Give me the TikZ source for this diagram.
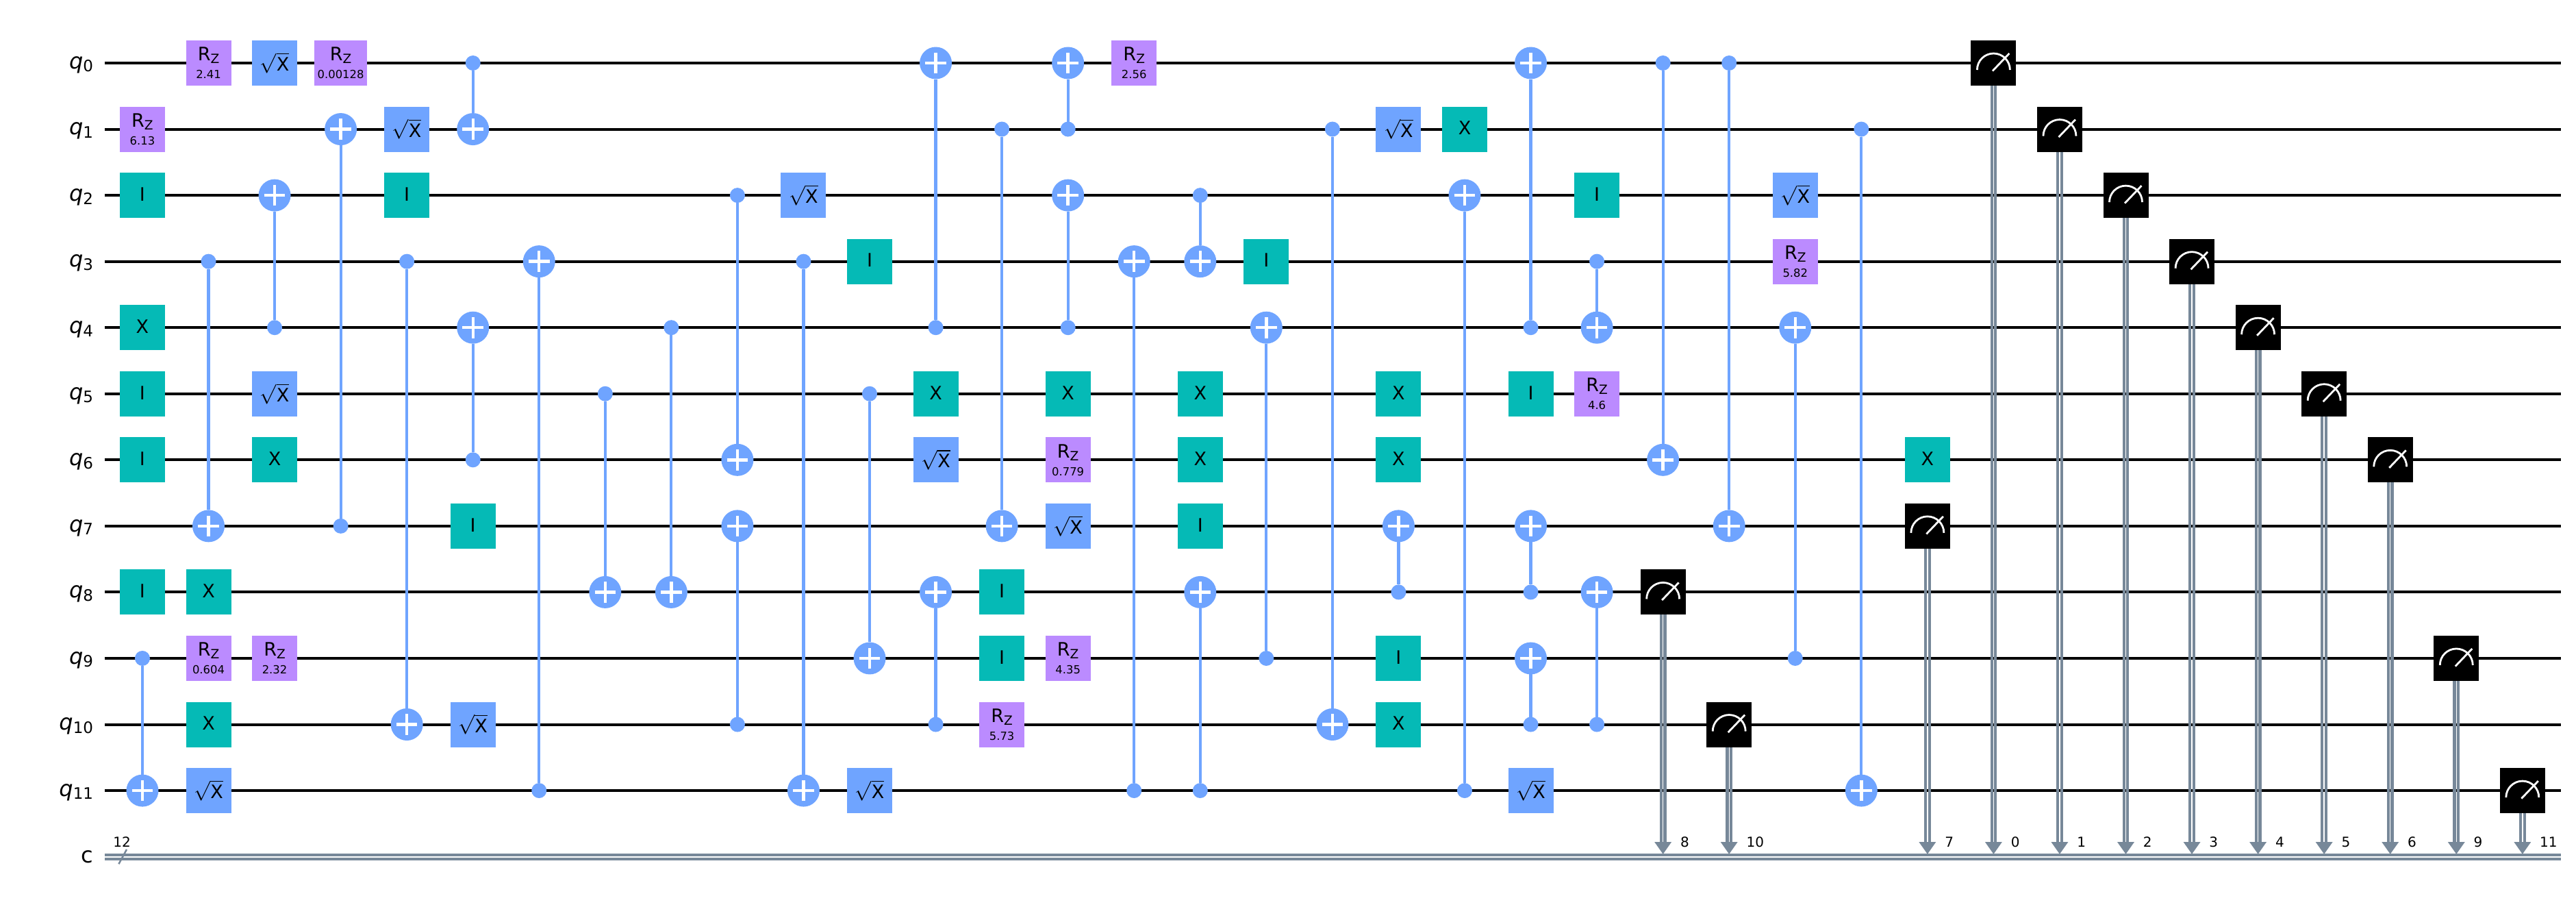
\documentclass[tikz,border=0pt]{standalone}
\usepackage{fontspec}
\setmainfont{DejaVu Sans}
\definecolor{rzcol}{HTML}{BB8BFF}
\definecolor{pauli}{HTML}{05BAB6}
\definecolor{cxcol}{HTML}{6FA4FF}
\definecolor{clcol}{HTML}{778899}
\tikzset{
  gate/.style={rectangle, inner sep=0pt, outer sep=0pt, minimum width=33pt, minimum height=33pt, font=\fontsize{13.5}{13.5}\selectfont},
  rzgate/.style={gate, fill=rzcol, align=center},
  xgate/.style={gate, fill=pauli, text depth=1.6pt},
  sxgate/.style={gate, fill=cxcol},
  ctrl/.style={circle, inner sep=0pt, outer sep=0pt, minimum size=11pt, fill=cxcol},
  targ/.style={circle, inner sep=0pt, outer sep=0pt, minimum size=23.5pt, fill=cxcol, path picture={
    \draw[white, line width=2.2pt] ([xshift=-7.65pt]path picture bounding box.center) -- ([xshift=7.65pt]path picture bounding box.center);
    \draw[white, line width=2.2pt] ([yshift=-7.65pt]path picture bounding box.center) -- ([yshift=7.65pt]path picture bounding box.center);}},
  meter/.style={gate, fill=black, path picture={
    \draw[white, line width=1.4pt] ([shift={(-12pt,-5pt)}]path picture bounding box.center) arc (180:0:12pt);
    \draw[white, line width=1.4pt] ([shift={(-0.75pt,-5.8pt)}]path picture bounding box.center) -- ([shift={(11.5pt,7pt)}]path picture bounding box.center);}},
  wire/.style={black, line width=2pt},
  cxline/.style={cxcol, line width=2.1pt},
  clbit/.style={clcol, line width=2.1pt},
  wirelabel/.style={anchor=base east, inner sep=0pt, font=\fontsize{16}{16}\selectfont},
  idxlabel/.style={inner sep=0pt, font=\fontsize{10}{10}\selectfont},
}
\newcommand{\rztext}[1]{R\raisebox{-2pt}{\fontsize{9.3}{9.3}\selectfont Z}\\[-0.5pt]{\fontsize{8.2}{8.2}\selectfont #1}}
\newcommand{\sxtext}{\raisebox{1.2pt}{$\sqrt{\mbox{X}}$}}
\newcommand{\qubit}[1]{
  \coordinate (s#1) at (-0.57,#1);
  \coordinate (e#1) at (36.58,#1);
  \draw[wire] (s#1) -- (e#1);
  \node[wirelabel, yshift=-4.15pt] (l#1) at (-0.741,#1) {\textit{q}\raisebox{-2.3pt}{\fontsize{11.5}{11.5}\selectfont #1}};
}
\newcommand{\cnot}[3]{
  \node[ctrl] (c#1r#2) at (#1,#2) {};
  \node[targ] (t#1r#3) at (#1,#3) {};
  \draw[cxline] (c#1r#2) -- (t#1r#3);
}
\newcommand{\measure}[3]{
  \node[meter] (m#1) at (#1,#2) {};
  \coordinate (a#1) at (#1,11.776);
  \coordinate (b#1) at (#1,11.96);
  \draw[clbit] ([xshift=-1.4pt]m#1.south) -- ([xshift=-1.4pt]a#1);
  \draw[clbit] ([xshift=1.4pt]m#1.south) -- ([xshift=1.4pt]a#1);
  \fill[clcol] ([xshift=-6.25pt]a#1) -- ([xshift=6.25pt]a#1) -- (b#1) -- cycle;
  \node[idxlabel, anchor=base west, xshift=12.5pt] (n#1) at (#1,11.85) {#3};
}
\begin{document}
\begin{tikzpicture}[x=48.275pt, y=-48.275pt]
\useasboundingbox (-2.154,-0.953) rectangle (36.81,12.76);
% quantum wires
\qubit{0}
\qubit{1}
\qubit{2}
\qubit{3}
\qubit{4}
\qubit{5}
\qubit{6}
\qubit{7}
\qubit{8}
\qubit{9}
\qubit{10}
\qubit{11}
% classical register
\coordinate (cs) at (-0.57,12.005);
\coordinate (ce) at (36.58,12.005);
\draw[clbit] ([yshift=1.5pt]cs) -- ([yshift=1.5pt]ce);
\draw[clbit] ([yshift=-1.5pt]cs) -- ([yshift=-1.5pt]ce);
\node[wirelabel, yshift=-4.5pt] (lc) at (-0.741,12) {c};
\coordinate (sa) at (-0.358,12.11);
\coordinate (sb) at (-0.238,11.89);
\draw[clcol, line width=1.25pt] (sa) -- (sb);
\node[idxlabel, anchor=base] (nc) at (-0.31,11.85) {12};
% gates, column by column
\node[rzgate] (g0r1) at (0,1) {\rztext{6.13}};
\node[xgate] (g0r2) at (0,2) {I};
\node[xgate] (g0r4) at (0,4) {X};
\node[xgate] (g0r5) at (0,5) {I};
\node[xgate] (g0r6) at (0,6) {I};
\node[xgate] (g0r8) at (0,8) {I};
\cnot{0}{9}{11}
\node[rzgate] (g1r0) at (1,0) {\rztext{2.41}};
\cnot{1}{3}{7}
\node[xgate] (g1r8) at (1,8) {X};
\node[rzgate] (g1r9) at (1,9) {\rztext{0.604}};
\node[xgate] (g1r10) at (1,10) {X};
\node[sxgate] (g1r11) at (1,11) {\sxtext};
\node[sxgate] (g2r0) at (2,0) {\sxtext};
\cnot{2}{4}{2}
\node[sxgate] (g2r5) at (2,5) {\sxtext};
\node[xgate] (g2r6) at (2,6) {X};
\node[rzgate] (g2r9) at (2,9) {\rztext{2.32}};
\node[rzgate, minimum width=38.5pt] (g3r0) at (3,0) {\rztext{0.00128}};
\cnot{3}{7}{1}
\node[sxgate] (g4r1) at (4,1) {\sxtext};
\node[xgate] (g4r2) at (4,2) {I};
\cnot{4}{3}{10}
\cnot{5}{0}{1}
\cnot{5}{6}{4}
\node[xgate] (g5r7) at (5,7) {I};
\node[sxgate] (g5r10) at (5,10) {\sxtext};
\cnot{6}{11}{3}
\cnot{7}{5}{8}
\cnot{8}{4}{8}
\cnot{9}{2}{6}
\cnot{9}{10}{7}
\node[sxgate] (g10r2) at (10,2) {\sxtext};
\cnot{10}{3}{11}
\node[xgate] (g11r3) at (11,3) {I};
\cnot{11}{5}{9}
\node[sxgate] (g11r11) at (11,11) {\sxtext};
\cnot{12}{4}{0}
\node[xgate] (g12r5) at (12,5) {X};
\node[sxgate] (g12r6) at (12,6) {\sxtext};
\cnot{12}{10}{8}
\cnot{13}{1}{7}
\node[xgate] (g13r8) at (13,8) {I};
\node[xgate] (g13r9) at (13,9) {I};
\node[rzgate] (g13r10) at (13,10) {\rztext{5.73}};
\cnot{14}{1}{0}
\cnot{14}{4}{2}
\node[xgate] (g14r5) at (14,5) {X};
\node[rzgate] (g14r6) at (14,6) {\rztext{0.779}};
\node[sxgate] (g14r7) at (14,7) {\sxtext};
\node[rzgate] (g14r9) at (14,9) {\rztext{4.35}};
\node[rzgate] (g15r0) at (15,0) {\rztext{2.56}};
\cnot{15}{11}{3}
\cnot{16}{2}{3}
\node[xgate] (g16r5) at (16,5) {X};
\node[xgate] (g16r6) at (16,6) {X};
\node[xgate] (g16r7) at (16,7) {I};
\cnot{16}{11}{8}
\node[xgate] (g17r3) at (17,3) {I};
\cnot{17}{9}{4}
\cnot{18}{1}{10}
\node[sxgate] (g19r1) at (19,1) {\sxtext};
\node[xgate] (g19r5) at (19,5) {X};
\node[xgate] (g19r6) at (19,6) {X};
\cnot{19}{8}{7}
\node[xgate] (g19r9) at (19,9) {I};
\node[xgate] (g19r10) at (19,10) {X};
\node[xgate] (g20r1) at (20,1) {X};
\cnot{20}{11}{2}
\cnot{21}{4}{0}
\node[xgate] (g21r5) at (21,5) {I};
\cnot{21}{8}{7}
\cnot{21}{10}{9}
\node[sxgate] (g21r11) at (21,11) {\sxtext};
\node[xgate] (g22r2) at (22,2) {I};
\cnot{22}{3}{4}
\node[rzgate] (g22r5) at (22,5) {\rztext{4.6}};
\cnot{22}{10}{8}
\cnot{23}{0}{6}
\measure{23}{8}{8}
\cnot{24}{0}{7}
\measure{24}{10}{10}
\node[sxgate] (g25r2) at (25,2) {\sxtext};
\node[rzgate] (g25r3) at (25,3) {\rztext{5.82}};
\cnot{25}{9}{4}
\cnot{26}{1}{11}
\node[xgate] (g27r6) at (27,6) {X};
\measure{27}{7}{7}
\measure{28}{0}{0}
\measure{29}{1}{1}
\measure{30}{2}{2}
\measure{31}{3}{3}
\measure{32}{4}{4}
\measure{33}{5}{5}
\measure{34}{6}{6}
\measure{35}{9}{9}
\measure{36}{11}{11}
\end{tikzpicture}
\end{document}
